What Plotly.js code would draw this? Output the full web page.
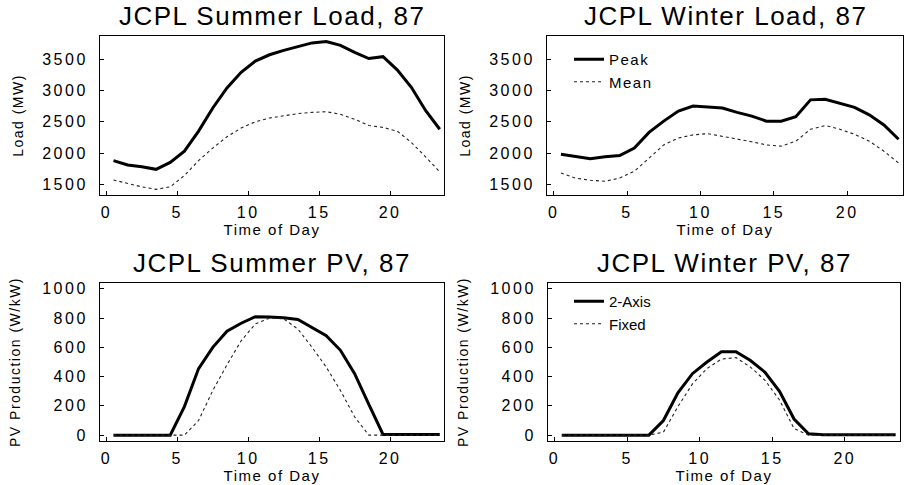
<!DOCTYPE html>
<html>
<head>
<meta charset="utf-8">
<script src="https://cdn.plot.ly/plotly-3.0.1.min.js"></script>
<style>
html,body{margin:0;padding:0;background:#fff;}
#chart{width:909px;height:485px;}
.xtick text,.x2tick text,.x3tick text,.x4tick text,.ytick text,.y2tick text,.y3tick text,.y4tick text{letter-spacing:2.5px !important;}
.annotation-text{letter-spacing:1.5px !important;}
text[class*="title"]{letter-spacing:1.5px !important;}
.legendtext{letter-spacing:1.5px !important;}
</style>
</head>
<body>
<div id="chart"></div>
<script>
// ---- data ----
const hours = [0.5,1.5,2.5,3.5,4.5,5.5,6.5,7.5,8.5,9.5,10.5,11.5,12.5,13.5,14.5,15.5,16.5,17.5,18.5,19.5,20.5,21.5,22.5,23.5];

const summerPeak = [1880,1810,1780,1740,1850,2030,2350,2720,3040,3290,3470,3570,3640,3700,3760,3780,3720,3610,3510,3540,3330,3050,2680,2380];
const summerMean = [1570,1510,1460,1420,1460,1640,1880,2080,2260,2400,2500,2560,2600,2630,2650,2660,2620,2540,2440,2410,2350,2170,1940,1700];

const winterPeak = [1980,1950,1910,1940,1960,2080,2330,2510,2670,2750,2740,2720,2650,2590,2510,2510,2580,2850,2860,2800,2730,2610,2450,2220];
const winterMean = [1680,1600,1565,1550,1600,1710,1920,2130,2240,2290,2310,2270,2220,2180,2130,2110,2190,2380,2440,2380,2300,2190,2030,1840];

const summerTwoAxis = [0,0,0,0,0,195,455,600,710,765,810,808,802,790,735,680,580,420,210,5,5,5,5,5];
const summerFixed   = [0,0,0,0,0,0,100,305,480,645,760,800,795,725,600,465,305,125,0,0,0,0,0,0];

const winterTwoAxis = [0,0,0,0,0,0,0,100,290,420,500,570,570,510,430,300,110,10,3,3,3,3,3,3];
const winterFixed   = [0,0,0,0,0,0,0,20,195,350,455,520,530,465,375,240,45,0,0,0,0,0,0,0];

const loadTicks = [1500,2000,2500,3000,3500];
const pvTicks = [0,200,400,600,800,1000];
const hourTicks = [0,5,10,15,20];

const panelTitles = ['JCPL Summer Load, 87','JCPL Winter Load, 87','JCPL Summer PV, 87','JCPL Winter PV, 87'];
const xTitle = 'Time of Day';
const loadTitle = 'Load (MW)';
const pvTitle = 'PV Production (W/kW)';

// ---- styling ----
const FONT = 'Liberation Sans, Arial, Helvetica, sans-serif';
const solid = {color:'#000', width:3};
const dotted = {color:'#222', width:1.1, dash:'dot'};

const traces = [
  {x:hours, y:summerPeak, xaxis:'x', yaxis:'y', mode:'lines', line:solid, name:'Peak', showlegend:false},
  {x:hours, y:summerMean, xaxis:'x', yaxis:'y', mode:'lines', line:dotted, name:'Mean', showlegend:false},
  {x:hours, y:winterPeak, xaxis:'x2', yaxis:'y2', mode:'lines', line:solid, name:'Peak', legend:'legend'},
  {x:hours, y:winterMean, xaxis:'x2', yaxis:'y2', mode:'lines', line:dotted, name:'Mean', legend:'legend'},
  {x:hours, y:summerTwoAxis, xaxis:'x3', yaxis:'y3', mode:'lines', line:solid, name:'2-Axis', showlegend:false},
  {x:hours, y:summerFixed, xaxis:'x3', yaxis:'y3', mode:'lines', line:dotted, name:'Fixed', showlegend:false},
  {x:hours, y:winterTwoAxis, xaxis:'x4', yaxis:'y4', mode:'lines', line:solid, name:'2-Axis', legend:'legend2'},
  {x:hours, y:winterFixed, xaxis:'x4', yaxis:'y4', mode:'lines', line:dotted, name:'Fixed', legend:'legend2'}
];

function xAx(domain, anchor){
  return {domain:domain, anchor:anchor, range:[-0.45,23.8], tickvals:hourTicks,
    showline:true, linecolor:'#000', linewidth:1, mirror:true, ticks:'inside', ticklen:4, tickcolor:'#000',
    showgrid:false, zeroline:false, tickfont:{family:FONT, size:16, color:'#000'}, ticklabelstandoff:3,
    title:{text:xTitle, font:{family:FONT, size:15, color:'#000'}, standoff:2}};
}
function yAx(domain, anchor, range, ticks, title, standoff){
  return {domain:domain, anchor:anchor, range:range, tickvals:ticks,
    showline:true, linecolor:'#000', linewidth:1, mirror:true, ticks:'inside', ticklen:4, tickcolor:'#000',
    showgrid:false, zeroline:false, tickfont:{family:FONT, size:16, color:'#000'}, ticklabelstandoff:8,
    title:{text:title, font:{family:FONT, size:14, color:'#000'}, standoff:standoff}};
}

const dTL = [100/909, 444/909], dTR = [547/909, 903/909];
const dBL = [100/909, 444/909], dBR = [548/909, 900/909];
const yTop = [1-195/485, 1-36/485], yBot = [1-441/485, 1-283/485];
const loadRange = [1330,3870], pvRange = [-40,1040];

const refs = [['x','y'],['x2','y2'],['x3','y3'],['x4','y4']];
const annotations = panelTitles.map((t,i)=>({
  text:t, xref:refs[i][0]+' domain', yref:refs[i][1]+' domain', x:0.5, y:1,
  xanchor:'center', yanchor:'bottom', yshift:3, showarrow:false,
  font:{family:FONT, size:26, color:'#000'}
}));

const legendBase = {xref:'paper', yref:'paper', xanchor:'left', yanchor:'top',
  bgcolor:'rgba(0,0,0,0)', borderwidth:0, font:{family:FONT, size:15, color:'#000'}, tracegroupgap:0};

const layout = {
  width:909, height:485, margin:{l:0,r:0,t:0,b:0},
  paper_bgcolor:'#fff', plot_bgcolor:'#fff',
  font:{family:FONT, color:'#000'},
  xaxis:xAx(dTL,'y'), yaxis:yAx(yTop,'x',loadRange,loadTicks,loadTitle,15),
  xaxis2:xAx(dTR,'y2'), yaxis2:yAx(yTop,'x2',loadRange,loadTicks,loadTitle,15),
  xaxis3:xAx(dBL,'y3'), yaxis3:yAx(yBot,'x3',pvRange,pvTicks,pvTitle,18),
  xaxis4:xAx(dBR,'y4'), yaxis4:yAx(yBot,'x4',pvRange,pvTicks,pvTitle,18),
  legend:Object.assign({}, legendBase, {x:569/909, y:1-43/485}),
  legend2:Object.assign({}, legendBase, {x:569/909, y:1-285/485}),
  annotations:annotations,
  showlegend:true
};

Plotly.newPlot('chart', traces, layout, {displayModeBar:false, staticPlot:true});
</script>
</body>
</html>
